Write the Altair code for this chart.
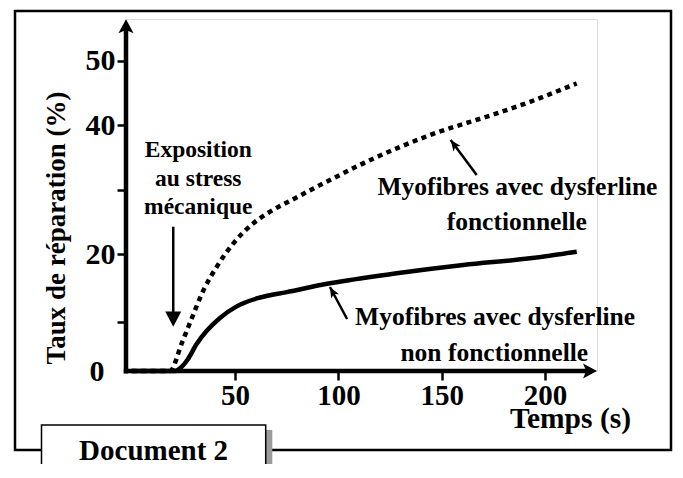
import altair as alt
import pandas as pd

# ---------------- data ----------------
temps_fonc = [0, 18.5, 24.2, 29.0, 34.6, 41.1, 49.2, 58.8, 66.9, 77.4, 95.9,
              112.0, 128.2, 144.3, 176.6, 192.7, 215.3]
taux_fonc = [0, 0, 5.65, 10.5, 14.6, 18.1, 21.66, 24.76, 26.57, 28.38, 31.49,
             34.08, 36.41, 38.47, 41.84, 43.64, 46.50]

temps_nonfonc = [0, 21.0, 23.5, 27.0, 31.4, 36.3, 42.7, 50.8, 62.1, 75.0, 95.9,
                 128.2, 160.4, 192.7, 215.3]
taux_nonfonc = [0, 0, 0.6, 2.3, 5.5, 8.2, 10.6, 12.3, 13.6, 14.4, 15.69,
                17.16, 18.38, 19.37, 20.36]

x_ticks = [50, 100, 150, 200]
y_ticks = [0, 10, 20, 30, 40, 50]

# annotations (data coordinates)
label_text = ["Exposition", "au stress", "mécanique"]
label_t = [32.2, 32.2, 32.2]
label_v = [36.14, 31.71, 27.29]

myo_text = ["Myofibres avec dysferline", "fonctionnelle",
            "Myofibres avec dysferline", "non fonctionnelle"]
myo_t = [186.6, 186.3, 175.8, 175.4]
myo_v = [30.35, 25.0, 10.78, 3.67]

# arrows: tail -> tip
arrow_up_tail = (166.9, 32.26)
arrow_up_tip = (154.3, 37.69)
arrow_low_tail = (104.2, 10.44)
arrow_low_tip = (95.9, 15.15)
arrow_down_top = (20.1, 24.24)
arrow_down_base = (20.1, 11.47)
arrow_down_tip = (20.1, 9.04)

FONT = "Liberation Serif"

# ---------------- scales / axes ----------------
W, H = 471, 352
xscale = alt.Scale(domain=[-2.76, 225.1], nice=False, zero=False)
yscale = alt.Scale(domain=[0, 10, 20, 56.5], range=[352, 303, 235, 0],
                   nice=False, zero=False)

xaxis = alt.Axis(values=x_ticks, domain=False, grid=False, tickSize=9, tickWidth=2.5,
                 tickColor="black", labelFont=FONT, labelFontSize=29,
                 labelFontWeight="bold", labelColor="black", labelPadding=1,
                 labelFlush=False, labelOverlap=False,
                 title="Temps (s)", titleFont=FONT, titleFontSize=29.5,
                 titleFontWeight="bold", titleColor="black", titleX=444, titleY=56,
                 titleAlign="center", titleBaseline="alphabetic")
yaxis = alt.Axis(values=y_ticks, domain=False, grid=False, tickSize=9, tickWidth=2.5,
                 tickColor="black",
                 tickOpacity={"condition": {"test": "datum.value === 0", "value": 0}, "value": 1},
                 labelExpr="datum.value == 10 || datum.value == 30 ? '' : datum.label",
                 labelFont=FONT, labelFontSize=30, labelFontWeight="bold",
                 labelColor="black",
                 labelPadding={"condition": {"test": "datum.value === 0", "value": 13}, "value": 2},
                 labelFlush=False, labelOverlap=False,
                 title="Taux de réparation (%)", titleFont=FONT, titleFontSize=27,
                 titleFontWeight="bold", titleColor="black", titleAngle=270,
                 titleX=-70, titleY=208.5, titleAlign="center", titleBaseline="middle")

X = alt.X("t:Q", scale=xscale, axis=xaxis)
Y = alt.Y("v:Q", scale=yscale, axis=yaxis)

one = pd.DataFrame({"k": [0]})

# ---------------- decorations ----------------
frame = alt.Chart(one).mark_rect(fill="white", fillOpacity=0, stroke="black",
                                 strokeWidth=2.5).encode(
    x=alt.value(-111), x2=alt.value(545), y=alt.value(-8), y2=alt.value(431))
shadow = alt.Chart(one).mark_rect(fill="#9a9a9a").encode(
    x=alt.value(139.7), x2=alt.value(146.3), y=alt.value(411), y2=alt.value(460))
docbox = alt.Chart(one).mark_rect(fill="white", stroke="black", strokeWidth=1.5).encode(
    x=alt.value(-84.5), x2=alt.value(139.7), y=alt.value(406), y2=alt.value(460))
doctext = alt.Chart(one).mark_text(font=FONT, fontSize=29, fontWeight="bold",
                                   color="black", align="center",
                                   baseline="middle").encode(
    x=alt.value(27.6), y=alt.value(431.5), text=alt.value("Document 2"))

yline = alt.Chart(one).mark_rule(color="black", strokeWidth=4.5).encode(
    x=alt.value(0), y=alt.value(11), y2=alt.value(354.5))
xline = alt.Chart(one).mark_rule(color="black", strokeWidth=4.5).encode(
    x=alt.value(-2.25), x2=alt.value(460), y=alt.value(352))
AXHEAD = "M0,0L0.95,1.75L0,1.35L-0.95,1.75Z"
yhead = alt.Chart(one).mark_point(shape=AXHEAD, filled=True, size=256, color="black",
                                  opacity=1, strokeWidth=0).encode(
    x=alt.value(0), y=alt.value(0.3))
xhead = alt.Chart(one).mark_point(shape=AXHEAD, filled=True, size=256, color="black",
                                  opacity=1, strokeWidth=0, angle=90).encode(
    x=alt.value(471), y=alt.value(352))

# ---------------- curves ----------------
df_f = pd.DataFrame({"t": temps_fonc, "v": taux_fonc})
df_n = pd.DataFrame({"t": temps_nonfonc, "v": taux_nonfonc})

curve_f = alt.Chart(df_f).mark_line(color="black", strokeWidth=4.5, strokeDash=[5, 4.5],
                                    strokeCap="butt", interpolate="monotone").encode(x=X, y=Y)
curve_n = alt.Chart(df_n).mark_line(color="black", strokeWidth=4.5,
                                    interpolate="monotone").encode(x=X, y=Y)

# ---------------- annotations ----------------
df_lab = pd.DataFrame({"t": label_t, "v": label_v, "txt": label_text})
lab = alt.Chart(df_lab).mark_text(font=FONT, fontSize=23.5, fontWeight="bold",
                                  color="black", align="center",
                                  baseline="middle").encode(x=X, y=Y, text="txt:N")

df_myo = pd.DataFrame({"t": myo_t, "v": myo_v, "txt": myo_text})
myo = alt.Chart(df_myo).mark_text(font=FONT, fontSize=25.5, fontWeight="bold",
                                  color="black", align="center",
                                  baseline="middle").encode(x=X, y=Y, text="txt:N")

df_arr = pd.DataFrame({
    "t": [arrow_up_tail[0], arrow_low_tail[0], arrow_down_top[0]],
    "v": [arrow_up_tail[1], arrow_low_tail[1], arrow_down_top[1]],
    "t2": [arrow_up_tip[0], arrow_low_tip[0], arrow_down_base[0]],
    "v2": [arrow_up_tip[1], arrow_low_tip[1], arrow_down_base[1]],
})
arr_lines = alt.Chart(df_arr).mark_rule(color="black", strokeWidth=2.5).encode(
    x=X, y=Y, x2="t2:Q", y2="v2:Q")

ANHEAD = "M0,0L0.75,1.8L0,1.35L-0.75,1.8Z"
head_up = alt.Chart(pd.DataFrame({"t": [arrow_up_tip[0]], "v": [arrow_up_tip[1]]})).mark_point(
    shape=ANHEAD, filled=True, size=144, color="black", opacity=1, strokeWidth=0,
    angle=323.4).encode(x=X, y=Y)
head_low = alt.Chart(pd.DataFrame({"t": [arrow_low_tip[0]], "v": [arrow_low_tip[1]]})).mark_point(
    shape=ANHEAD, filled=True, size=144, color="black", opacity=1, strokeWidth=0,
    angle=331.3).encode(x=X, y=Y)
head_down = alt.Chart(pd.DataFrame({"t": [arrow_down_tip[0]], "v": [arrow_down_tip[1]]})).mark_point(
    shape="M0,0L1,1.9L-1,1.9Z", filled=True, size=256, color="black", opacity=1,
    strokeWidth=0, angle=180).encode(x=X, y=Y)

chart = alt.layer(
    frame, shadow, docbox, doctext,
    curve_f, curve_n, yline, xline, yhead, xhead,
    lab, myo, arr_lines, head_up, head_low, head_down,
).properties(
    width=W, height=H,
    padding={"left": 118, "top": 11, "right": 77, "bottom": 93},
    autosize=alt.AutoSizeParams(type="none"),
).configure_view(stroke=None).configure(background="white")

chart.save("out.html", embed_options={"renderer": "svg", "actions": False})
